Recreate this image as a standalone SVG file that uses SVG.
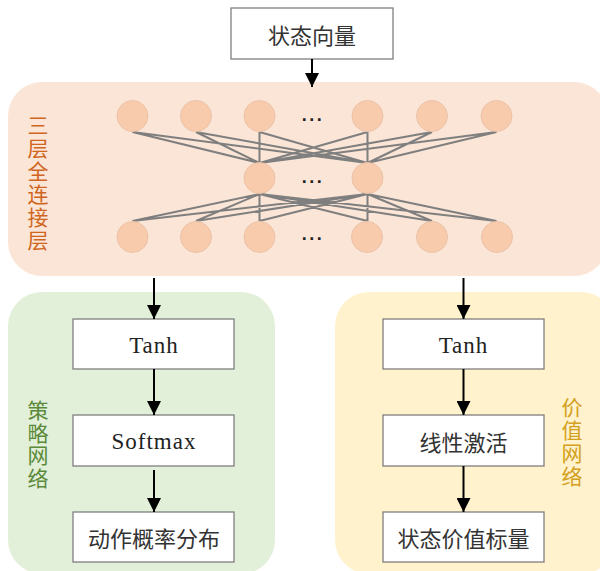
<svg xmlns="http://www.w3.org/2000/svg" width="600" height="571" viewBox="0 0 600 571">
<defs>
<marker id="ah" markerWidth="14" markerHeight="14" viewBox="0 0 14 14" refX="14" refY="7" orient="auto" markerUnits="userSpaceOnUse">
<path d="M0,0 L14,7 L0,14 z" fill="#000"/>
</marker>
<style>
.box{fill:#fff;stroke:#7f7f7f;stroke-width:1.3}
.cn{font-family:"Noto Sans CJK SC","Noto Sans",sans-serif;font-size:22px;fill:#333;text-anchor:middle;dominant-baseline:central}
.en{font-family:"Liberation Serif","Times New Roman",serif;font-size:23px;fill:#222;text-anchor:middle;dominant-baseline:central;letter-spacing:1px}
.vl{font-family:"Noto Sans CJK SC","Noto Sans",sans-serif;font-size:21px;text-anchor:middle;dominant-baseline:central}
.neu{fill:#f8cbad;stroke:#ecc3a8;stroke-width:1}
.dots{font-family:"Liberation Sans",sans-serif;font-size:18px;font-weight:bold;fill:#222;text-anchor:middle;dominant-baseline:central;letter-spacing:1.5px}
.w{stroke:#7f7f7f;stroke-width:2;fill:none}
.arr{stroke:#000;stroke-width:2;fill:none;marker-end:url(#ah)}
</style>
</defs>
<rect width="600" height="571" fill="#fff"/>
<g id="panels">
<rect id="fc-panel" x="8" y="82" width="600" height="194" rx="34" fill="#fbe5d6"/>
<rect id="policy-panel" x="8" y="292" width="267" height="282" rx="34" fill="#e2efd9"/>
<rect id="value-panel" x="335" y="292" width="280" height="282" rx="34" fill="#fff2cc"/>
</g>
<g id="panel-labels">
<text class="vl" fill="#d0661e"><tspan x="38" y="124">三</tspan><tspan x="38" y="147">层</tspan><tspan x="38" y="170">全</tspan><tspan x="38" y="193">连</tspan><tspan x="38" y="216">接</tspan><tspan x="38" y="239">层</tspan></text>
<text class="vl" fill="#5b8a3a"><tspan x="38" y="409">策</tspan><tspan x="38" y="431.5">略</tspan><tspan x="38" y="454">网</tspan><tspan x="38" y="476.5">络</tspan></text>
<text class="vl" fill="#d4a020"><tspan x="572" y="406">价</tspan><tspan x="572" y="429">值</tspan><tspan x="572" y="452">网</tspan><tspan x="572" y="475">络</tspan></text>
</g>
<g id="weights">
<path class="w" d="M132.5,132 L259.5,163 M132.5,132 L367.5,163 M196,132 L259.5,163 M196,132 L367.5,163 M259.5,132 L259.5,163 M259.5,132 L367.5,163 M367.5,132 L259.5,163 M367.5,132 L367.5,163 M432,132 L259.5,163 M432,132 L367.5,163 M496.5,132 L259.5,163 M496.5,132 L367.5,163"/>
<path class="w" d="M132.5,221 L259.5,194 M132.5,221 L367.5,194 M196,221 L259.5,194 M196,221 L367.5,194 M259.5,221 L259.5,194 M259.5,221 L367.5,194 M367.5,221 L259.5,194 M367.5,221 L367.5,194 M432,221 L259.5,194 M432,221 L367.5,194 M496.5,221 L259.5,194 M496.5,221 L367.5,194"/>
</g>
<g id="neurons">
<circle class="neu" cx="132.5" cy="116" r="15.5"/>
<circle class="neu" cx="196" cy="116" r="15.5"/>
<circle class="neu" cx="259.5" cy="116" r="15.5"/>
<circle class="neu" cx="367.5" cy="116" r="15.5"/>
<circle class="neu" cx="432" cy="116" r="15.5"/>
<circle class="neu" cx="496.5" cy="116" r="15.5"/>
<circle class="neu" cx="259.5" cy="178" r="15.5"/>
<circle class="neu" cx="367.5" cy="178" r="15.5"/>
<circle class="neu" cx="132.5" cy="237" r="15.5"/>
<circle class="neu" cx="196" cy="237" r="15.5"/>
<circle class="neu" cx="259.5" cy="237" r="15.5"/>
<circle class="neu" cx="367" cy="237" r="15.5"/>
<circle class="neu" cx="432" cy="237" r="15.5"/>
<circle class="neu" cx="497" cy="237" r="15.5"/>
<text class="dots" x="313" y="120">···</text>
<text class="dots" x="313" y="182">···</text>
<text class="dots" x="313" y="239">···</text>
</g>
<g id="n-input"><rect class="box" x="231" y="8" width="162" height="51"/><text class="cn" x="312" y="34">状态向量</text></g>
<g id="n-tanh1"><rect class="box" x="73" y="319" width="161" height="50"/><text class="en" x="154" y="345">Tanh</text></g>
<g id="n-softmax"><rect class="box" x="73" y="415" width="161" height="51"/><text class="en" x="154" y="441">Softmax</text></g>
<g id="n-prob"><rect class="box" x="73" y="512" width="161" height="50"/><text class="cn" x="154" y="537">动作概率分布</text></g>
<g id="n-tanh2"><rect class="box" x="383" y="319" width="161" height="50"/><text class="en" x="463.5" y="345">Tanh</text></g>
<g id="n-linear"><rect class="box" x="383" y="415" width="161" height="51"/><text class="cn" x="463.5" y="441">线性激活</text></g>
<g id="n-value"><rect class="box" x="383" y="512" width="161" height="50"/><text class="cn" x="463.5" y="537">状态价值标量</text></g>
<g id="connectors">
<line class="arr" x1="312" y1="59" x2="312" y2="87"/>
<line class="arr" x1="154" y1="278" x2="154" y2="319"/>
<line class="arr" x1="463.5" y1="278" x2="463.5" y2="319"/>
<line class="arr" x1="154" y1="369" x2="154" y2="415"/>
<line class="arr" x1="463.5" y1="369" x2="463.5" y2="415"/>
<line class="arr" x1="154" y1="470" x2="154" y2="512"/>
<line class="arr" x1="463.5" y1="466" x2="463.5" y2="512"/>
</g>
</svg>
